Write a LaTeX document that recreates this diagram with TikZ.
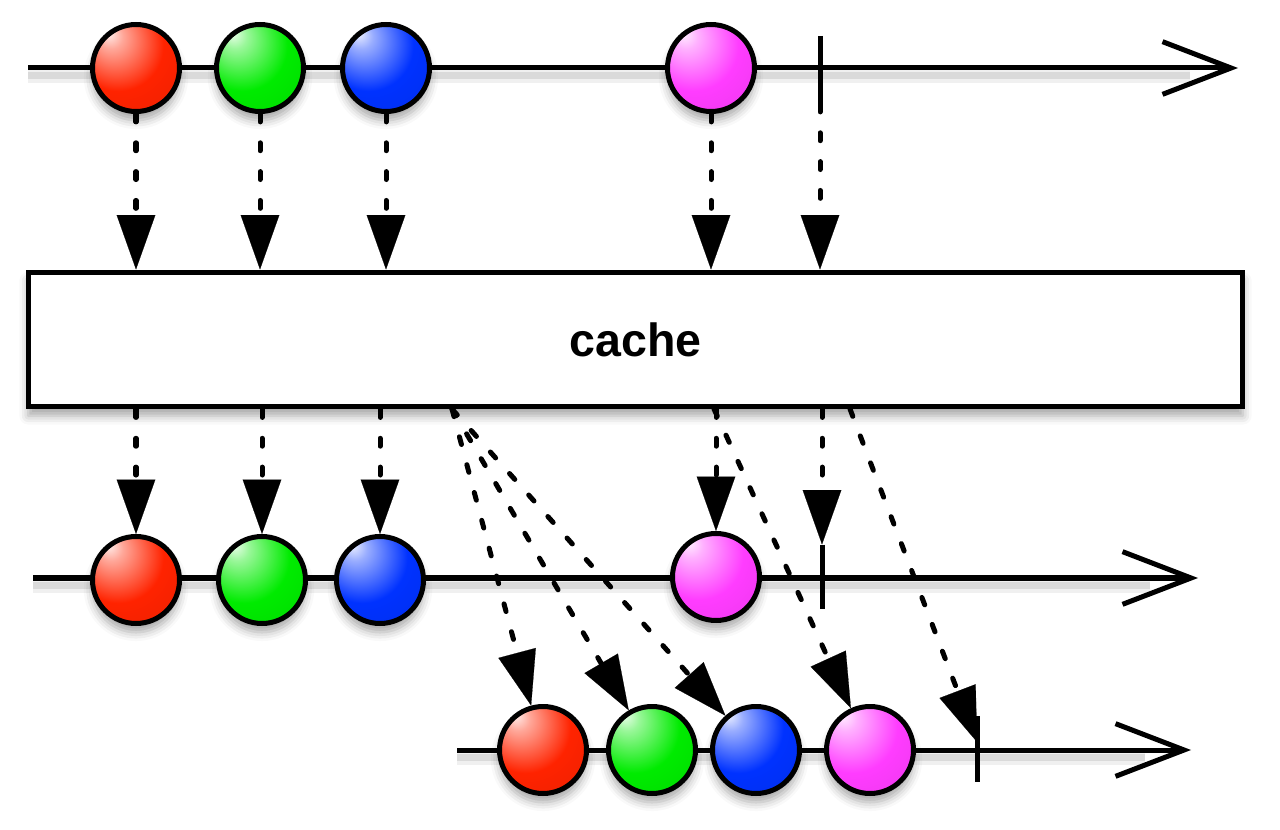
\documentclass[tikz,border=0pt]{standalone}
\usepackage{fontspec}
\setmainfont{Liberation Sans}
\usetikzlibrary{arrows.meta,shadows.blur}
\definecolor{mred}{RGB}{255,35,0}
\definecolor{mgreen}{RGB}{0,235,0}
\definecolor{mblue}{RGB}{0,50,255}
\definecolor{mpink}{RGB}{255,60,255}
\colorlet{ballc}{red}
\pgfdeclareradialshading[ballc]{mball}{\pgfpoint{-16bp}{20bp}}{%
  color(0bp)=(ballc!8!white); color(7bp)=(ballc!40!white); color(26bp)=(ballc);
  color(48bp)=(ballc!92!black); color(72bp)=(ballc!55!black)}
\begin{document}
\begin{tikzpicture}[x=0.02cm,y=-0.02cm,
  lw/.style={line width=2.85pt},
  timeline/.style={lw, -{Straight Barb[length=39pt 0,width=30pt 0,line width=2.85pt]}},
  lshadow/.style={draw=black, line width=9pt, opacity=0.06, transform canvas={yshift=-4pt}},
  lshadowb/.style={draw=black, line width=4pt, opacity=0.09, transform canvas={yshift=-4pt}},
  bc/.code={\colorlet{ballc}{#1}},
  marble/.style={circle, draw, lw, inner sep=0pt, minimum size=1.74cm, bc=#1, shading=mball,
    blur shadow={shadow xshift=0pt, shadow yshift=-5pt, shadow blur radius=5pt, shadow opacity=35}},
  term/.style={inner sep=0pt, outer sep=0pt, minimum width=0pt, minimum height=#1},
  tickline/.style={lw},
  dots/.style={lw, line cap=round, dash pattern=on 4.5pt off 11.9pt,
    -{Triangle[length=31pt 0,width=22pt 0,line width=0.1pt]}},
  boxstyle/.style={draw, fill=white, lw, inner sep=0pt, minimum width=24.3cm, minimum height=2.7cm,
    blur shadow={shadow xshift=0pt, shadow yshift=-5pt, shadow blur radius=5pt, shadow opacity=35},
    font=\fontsize{26.5}{30}\selectfont\bfseries}
]
\useasboundingbox (0,0) rectangle (1280,830);

% ---------- top row ----------
\coordinate (s1) at (28,68);
\coordinate (e1) at (1238,68);
\draw[lshadow] (s1) -- (1190,68);
\draw[lshadowb] (s1) -- (1190,68);
\draw[timeline] (s1) -- (e1);
\node[marble=mred]   (r1) at (136,68) {};
\node[marble=mgreen] (g1) at (260,68) {};
\node[marble=mblue]  (b1) at (386,68) {};
\node[marble=mpink]  (p1) at (711,68) {};
\node[term=1.36cm] (t1) at (820,70) {};
\draw[tickline] (t1.north) -- (t1.south);

% ---------- operator box ----------
\node[boxstyle] (cache) at (635.5,339.5) {cache};

% ---------- arrows into the box ----------
\draw[dots] (r1) -- (r1 |- cache.north);
\draw[dots] (g1) -- (g1 |- cache.north);
\draw[dots] (b1) -- (b1 |- cache.north);
\draw[dots] (p1) -- (p1 |- cache.north);
\draw[dots] (t1.south) -- (t1 |- cache.north);

% ---------- middle row ----------
\coordinate (s2) at (33,578);
\coordinate (e2) at (1198,578);
\draw[lshadow] (s2) -- (1150,578);
\draw[lshadowb] (s2) -- (1150,578);
\draw[timeline] (s2) -- (e2);
\node[marble=mred]   (r2) at (136,580) {};
\node[marble=mgreen] (g2) at (262,580) {};
\node[marble=mblue]  (b2) at (380,580) {};
\node[marble=mpink]  (p2) at (716,577) {};
\node[term=1.3cm] (t2) at (822,577) {};
\draw[tickline] (t2.north) -- (t2.south);

% ---------- bottom row ----------
\coordinate (s3) at (457,750);
\coordinate (e3) at (1191,750);
\draw[lshadow] (s3) -- (1145,750);
\draw[lshadowb] (s3) -- (1145,750);
\draw[timeline] (s3) -- (e3);
\node[marble=mred]   (r3) at (543,750) {};
\node[marble=mgreen] (g3) at (652,750) {};
\node[marble=mblue]  (b3) at (756,750) {};
\node[marble=mpink]  (p3) at (870,750) {};
\node[term=1.32cm] (t3) at (977,749) {};
\draw[tickline] (t3.north) -- (t3.south);
\coordinate (t3tip) at (977,742);

% ---------- arrows out of the box ----------
\draw[dots] (r2 |- cache.south) -- (r2);
\draw[dots] (g2 |- cache.south) -- (g2);
\draw[dots] (b2 |- cache.south) -- (b2);
\draw[dots] (p2 |- cache.south) -- (p2);
\draw[dots] (t2 |- cache.south) -- (t2.north);

\coordinate (d1) at (452,409);
\coordinate (d2) at (714,409);
\coordinate (d3) at (850,409);
\draw[dots] (d1) -- (r3);
\draw[dots] (d1) -- (g3);
\draw[dots] (d1) -- (b3);
\draw[dots] (d2) -- (p3);
\draw[dots] (d3) -- (t3tip);
\end{tikzpicture}
\end{document}
